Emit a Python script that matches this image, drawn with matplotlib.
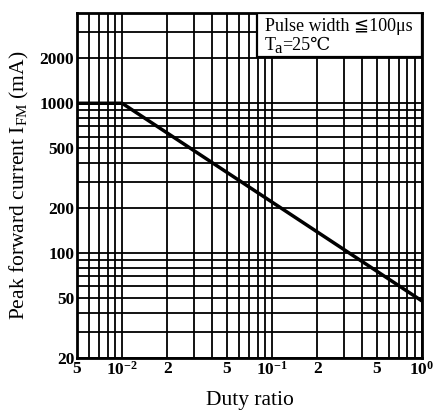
import matplotlib
matplotlib.use("Agg")
import matplotlib.pyplot as plt
from matplotlib.ticker import FixedLocator, FixedFormatter, NullFormatter
from matplotlib.patches import Rectangle

# ---- data ----
duty = [0.005, 0.01, 1.0]
ifm = [1000, 1000, 48]

xtick_vals = [0.005, 0.01, 0.02, 0.05, 0.1, 0.2, 0.5, 1.0]
xtick_labels = ["5", r"10$^{\mathbf{-2}}$", "2", "5", r"10$^{\mathbf{-1}}$", "2", "5", r"10$^{\mathbf{0}}$"]
ytick_vals = [20, 50, 100, 200, 500, 1000, 2000]
ytick_labels = ["20", "50", "100", "200", "500", "1000", "2000"]

xgrid = [0.005, 0.006, 0.007, 0.008, 0.009,
         0.01, 0.02, 0.03, 0.04, 0.05, 0.06, 0.07, 0.08, 0.09,
         0.1, 0.2, 0.3, 0.4, 0.5, 0.6, 0.7, 0.8, 0.9, 1.0]
ygrid = [20, 30, 40, 50, 60, 70, 80, 90,
         100, 200, 300, 400, 500, 600, 700, 800, 900, 1000, 2000, 3000]

plt.rcParams['mathtext.fontset'] = 'custom'
plt.rcParams['mathtext.rm'] = 'Liberation Serif'
plt.rcParams['mathtext.bf'] = 'Liberation Serif:bold'
plt.rcParams['mathtext.it'] = 'Liberation Serif:italic'

serif = ['Liberation Serif', 'DejaVu Serif', 'DejaVu Sans']

fig = plt.figure(figsize=(4.39, 4.12), dpi=100)
ax = fig.add_axes([77/439, 54/412, 345/439, 345/412])
ax.set_xscale('log')
ax.set_yscale('log')
ax.set_xlim(0.005, 1.0)
ax.set_ylim(20, 4000)

for gx in xgrid:
    ax.axvline(gx, color='black', lw=1.3, zorder=1)
for gy in ygrid:
    ax.axhline(gy, color='black', lw=1.3, zorder=1)

ax.plot(duty, ifm, color='black', lw=2.5, zorder=3, solid_capstyle='butt')

ax.xaxis.set_major_locator(FixedLocator(xtick_vals))
ax.xaxis.set_major_formatter(FixedFormatter(xtick_labels))
ax.xaxis.set_minor_locator(FixedLocator([]))
ax.xaxis.set_minor_formatter(NullFormatter())
ax.yaxis.set_major_locator(FixedLocator(ytick_vals))
ax.yaxis.set_major_formatter(FixedFormatter(ytick_labels))
ax.yaxis.set_minor_locator(FixedLocator([]))
ax.yaxis.set_minor_formatter(NullFormatter())
ax.tick_params(which='both', length=0, pad=2)
for lab in ax.get_xticklabels() + ax.get_yticklabels():
    lab.set_family('Liberation Serif')
    lab.set_fontweight('bold')
    lab.set_fontsize(12.5)

for sp in ax.spines.values():
    sp.set_linewidth(2.0)
    sp.set_zorder(5)

ax.set_xlabel("Duty ratio", family=serif, fontsize=15.5, labelpad=9)
ax.set_ylabel(r"Peak forward current I$_{\rm FM}$ (mA)", family='Liberation Serif',
              fontsize=15.5, labelpad=6)

# condition box
box = Rectangle((0.523, 0.872), 0.477, 0.128, transform=ax.transAxes,
                facecolor='white', edgecolor='black', lw=1.6, zorder=6)
ax.add_patch(box)
ax.text(0.545, 0.962, "Pulse width \u2266100\u03bcs", transform=ax.transAxes,
        family=serif, fontsize=13, va='center', ha='left', zorder=7)
t1 = ax.text(0.545, 0.893, "T", transform=ax.transAxes, family=serif,
             fontsize=13, va='baseline', ha='left', zorder=7)
t2 = ax.annotate("a", xy=(1, 0), xycoords=t1, xytext=(-1.0, -2.5),
                 textcoords='offset points', family=serif, fontsize=12,
                 va='bottom', ha='left', zorder=7)
t3 = ax.annotate("=25\u2103", xy=(1, 0), xycoords=(t2, t1), xytext=(0.3, 0),
                 textcoords='offset points', family=serif, fontsize=13,
                 va='bottom', ha='left', zorder=7)

fig.savefig("out.png", dpi=100)
